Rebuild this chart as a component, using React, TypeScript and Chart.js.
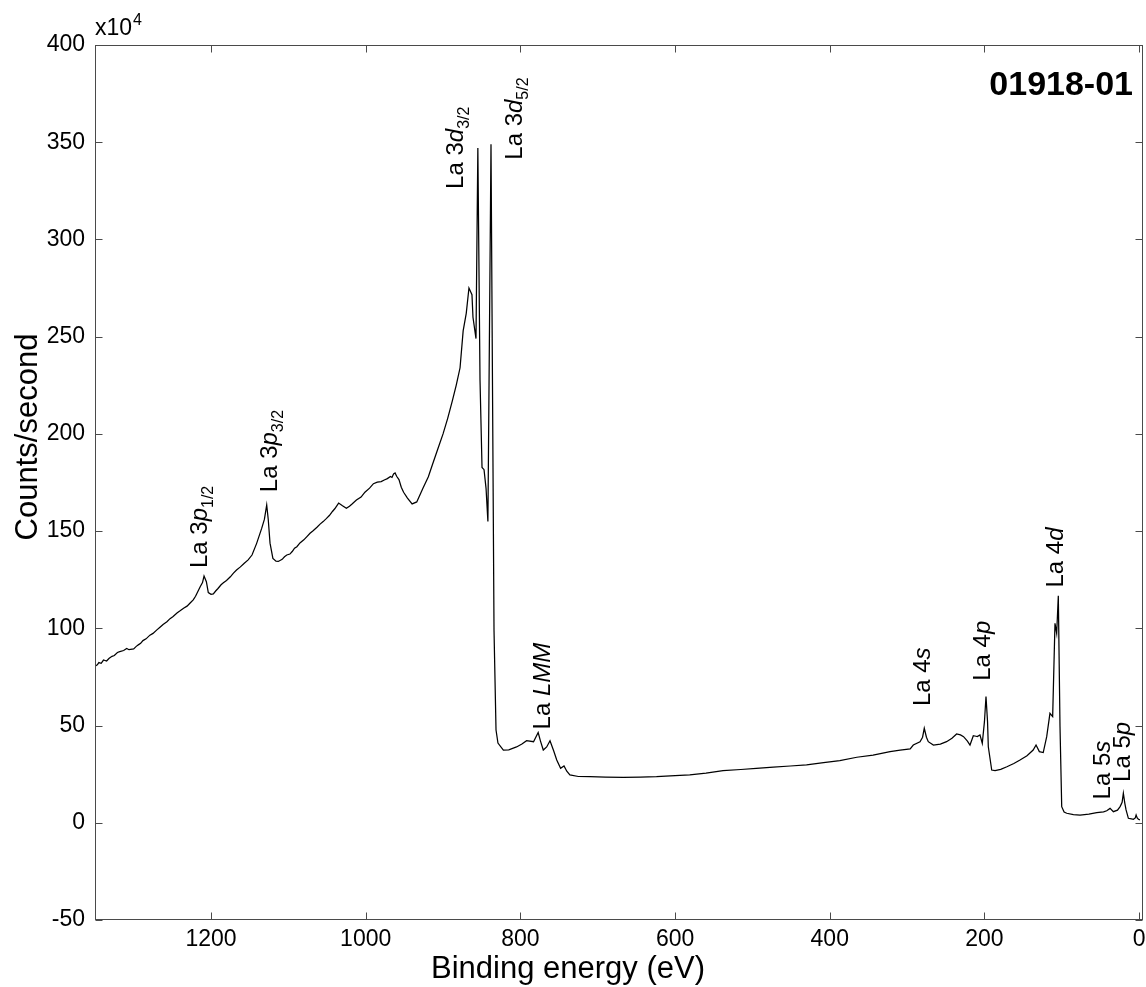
import React, { useEffect, useRef } from 'react';
import { Chart, registerables } from 'chart.js';

Chart.register(...registerables);

// Binding energy (eV)
const energy = [
  1350, 1347, 1345, 1342, 1339, 1335, 1332, 1328, 1325, 1321, 1318, 1313, 1309, 1306, 1300, 1297, 1294, 1291, 1288,
  1284, 1279, 1275, 1270, 1266, 1262, 1257, 1253, 1249, 1244, 1240, 1235, 1231, 1227, 1223, 1220,
  1214, 1211, 1209, 1206, 1203.5, 1200, 1197, 1194, 1191, 1187, 1184, 1180, 1175, 1171, 1167, 1162, 1157, 1152, 1147,
  1141, 1134.5, 1131, 1128, 1126, 1123.7, 1120, 1116, 1113, 1108, 1105, 1102, 1098, 1095, 1092, 1089, 1085, 1080, 1076,
  1072, 1068, 1063, 1059, 1055, 1051, 1047, 1043, 1040, 1035, 1030, 1025, 1021, 1018, 1012, 1006,
  1001, 995, 990, 985, 980, 976, 972, 968, 966, 964, 962, 960, 957, 954, 951, 946, 940, 934, 926, 919, 913, 907, 900, 894,
  888, 883, 878, 874, 870, 866.5, 862.6, 861.3, 857.4, 855, 852.2, 849.6, 847, 844.4, 842, 838, 834.1, 831.5, 829, 822,
  815, 805, 798, 792, 783, 777, 774, 770.4, 766, 761.7, 757, 753, 748, 743.6, 740, 736, 725, 710, 690, 667, 645, 624,
  600, 581, 560, 538, 515, 495, 473, 451, 430, 408, 387, 365, 344, 322, 309, 296, 292, 283.3, 280, 277.8, 275, 272.6,
  266, 257, 249, 242, 236, 231, 227, 222, 218.7, 216, 214.4, 211, 209.3, 205.8, 202.8, 200, 198, 196, 195, 190.6, 186.3,
  179, 171, 162, 154, 145, 137, 133.3, 129, 124, 119.5, 115.3, 111.8, 108.8, 106.6, 104.5, 102.3, 100.1, 97, 93.6, 85,
  76.4, 65, 54.8, 46, 41.9, 37.6, 33.3, 28, 24.6, 22, 20.4, 18.5, 16.9, 13.9, 10, 7.4, 5, 3.9, 2.5, 0.9, -1,
];

// Counts/second (x10^4)
const counts = [
  80.5, 81.2, 82.4, 82.0, 83.7, 83.2, 84.5, 85.6, 86.0, 87.6, 88.0, 88.6, 89.6, 89.0, 89.4, 90.6, 91.5, 92.3, 93.7,
  94.6, 96.5, 97.4, 99.2, 100.6, 102, 103.4, 105, 106.1, 107.9, 109.0, 110.5, 111.4, 113, 114.6, 116.5,
  121.4, 123.5, 126.9, 124, 118.4, 117.5, 117.7, 119.2, 120.5, 122.4, 123.4, 124.6, 126.5, 128.4, 130, 131.6, 133.5, 135.2, 137.7,
  143.7, 151.4, 156, 163.4, 156, 143.8, 136, 134.5, 134.4, 135.5, 136.8, 137.7, 138.2, 139.5, 141.2, 142, 143.9, 145.5, 147.2,
  148.9, 150.2, 152, 153.6, 154.9, 156.4, 158, 160.1, 161.5, 164.4, 163, 161.7, 162.8, 163.8, 166, 167.5,
  170, 172.1, 174.4, 175.2, 175.5, 176.3, 177, 178.1, 177.6, 179.4, 179.9, 178.2, 176.5, 172.6, 170, 167, 164, 165, 172,
  178, 185, 192, 200, 208, 217, 225, 234, 253, 262, 275, 271.6, 260, 249, 347, 227.7, 182.7, 181.6, 172, 155, 349, 99,
  47.7, 41, 37.4, 37.5, 39, 40.5, 42.2, 41.7, 46.4, 42, 37.4, 39, 42.2, 37, 32.3, 28, 29.2, 26.5, 24.6, 23.8, 23.7, 23.5,
  23.4, 23.5, 23.7, 24.2, 24.6, 25.5, 26.8, 27.4, 28, 28.6, 29.2, 29.8, 30.9, 32, 33.7, 34.8, 36.6, 37.4, 38, 40, 41.7, 44,
  48.6, 44, 41.7, 40, 40.5, 41.7, 43.5, 45.7, 45.2, 44.3, 42, 40, 43, 44.8, 44.5, 44.3, 45.2, 40.9, 52, 64.9, 52, 39.1,
  27.1, 26.8, 27.5, 28.8, 30.5, 32.3, 34.5, 37.4, 40, 36.6, 36.1, 44.3, 56.3, 54.6, 102.6, 97.4, 116.7, 49.4, 8.3, 5.5,
  4.9, 4.2, 4.0, 4.5, 5.2, 5.6, 6.2, 7.4, 5.7, 6.5, 8.3, 10.5, 15.2, 10, 6.6, 2.3, 2.0, 1.8, 2.5, 4.0, 2.5, 1.8, 1.5,
];

const xTicks = [1200, 1000, 800, 600, 400, 200, 0];
const yTicks = [-50, 0, 50, 100, 150, 200, 250, 300, 350, 400];

// Peak labels: [text, style] parts ('n' normal, 'i' italic, 'sub' subscript)
type Part = [string, 'n' | 'i' | 'sub'];
const labelParts: Part[][] = [
  [['La 3', 'n'], ['p', 'i'], ['1/2', 'sub']],
  [['La 3', 'n'], ['p', 'i'], ['3/2', 'sub']],
  [['La 3', 'n'], ['d', 'i'], ['3/2', 'sub']],
  [['La 3', 'n'], ['d', 'i'], ['5/2', 'sub']],
  [['La ', 'n'], ['LMM', 'i']],
  [['La 4', 'n'], ['s', 'i']],
  [['La 4', 'n'], ['p', 'i']],
  [['La 4', 'n'], ['d', 'i']],
  [['La 5', 'n'], ['s', 'i']],
  [['La 5', 'n'], ['p', 'i']],
];
const labelEnergy = [1205, 1115, 874, 798, 762, 270, 193, 98, 38, 12];
const labelCounts = [131, 170, 326, 341, 48, 60, 73, 121, 12, 21];

const FONT = "'Liberation Sans', Arial, Helvetica, sans-serif";

const decorPlugin = {
  id: 'decor',
  afterDraw(chart: any) {
    const { ctx, chartArea: a, scales } = chart;
    const xs = scales.x;
    const ys = scales.y;
    ctx.save();
    // frame
    ctx.strokeStyle = '#4a4a4a';
    ctx.lineWidth = 1;
    const L = Math.round(a.left) + 0.5;
    const R = Math.round(a.right) - 0.5;
    const T = Math.round(a.top) + 0.5;
    const B = Math.round(a.bottom) - 0.5;
    ctx.strokeRect(L, T, R - L, B - T);
    // inward ticks
    const tl = 7;
    ctx.beginPath();
    for (const v of xTicks) {
      const px = Math.round(xs.getPixelForValue(v)) + 0.5;
      ctx.moveTo(px, B);
      ctx.lineTo(px, B - tl);
      ctx.moveTo(px, T);
      ctx.lineTo(px, T + tl);
    }
    for (const v of yTicks) {
      const py = Math.round(ys.getPixelForValue(v)) + 0.5;
      ctx.moveTo(L, py);
      ctx.lineTo(L + tl, py);
      ctx.moveTo(R, py);
      ctx.lineTo(R - tl, py);
    }
    ctx.stroke();

    ctx.fillStyle = '#000';
    ctx.textAlign = 'left';
    ctx.textBaseline = 'alphabetic';
    // exponent
    ctx.font = `23px ${FONT}`;
    ctx.fillText('x10', a.left, a.top - 10);
    const w = ctx.measureText('x10').width;
    ctx.font = `16px ${FONT}`;
    ctx.fillText('4', a.left + w + 1, a.top - 20);

    // sample id
    ctx.font = `bold 34px ${FONT}`;
    ctx.textAlign = 'right';
    ctx.fillText('01918-01', a.right - 10, a.top + 50);

    // axis titles
    ctx.font = `31px ${FONT}`;
    ctx.textAlign = 'center';
    ctx.textBaseline = 'alphabetic';
    ctx.fillText('Binding energy (eV)', 568, 978);
    ctx.save();
    ctx.translate(37, 437);
    ctx.rotate(-Math.PI / 2);
    ctx.fillText('Counts/second', 0, 0);
    ctx.restore();

    // peak labels
    ctx.textAlign = 'left';
    labelParts.forEach((parts, i) => {
      const px = xs.getPixelForValue(labelEnergy[i]);
      const py = ys.getPixelForValue(labelCounts[i]);
      ctx.save();
      ctx.translate(px, py);
      ctx.rotate(-Math.PI / 2);
      let cx = 0;
      for (const [t, st] of parts) {
        if (st === 'sub') {
          ctx.font = `16px ${FONT}`;
          ctx.fillText(t, cx, 6);
        } else {
          ctx.font = `${st === 'i' ? 'italic ' : ''}24px ${FONT}`;
          ctx.fillText(t, cx, 0);
        }
        cx += ctx.measureText(t).width;
      }
      ctx.restore();
    });
    ctx.restore();
  },
};

export default function App() {
  const ref = useRef<HTMLCanvasElement | null>(null);
  useEffect(() => {
    const canvas = ref.current;
    if (!canvas) return;
    const chart = new Chart(canvas, {
      type: 'scatter',
      data: {
        datasets: [
          {
            data: energy.map((x, i) => ({ x, y: counts[i] })),
            showLine: true,
            borderColor: '#000',
            borderWidth: 1.25,
            pointRadius: 0,
            fill: false,
            tension: 0,
          },
        ],
      },
      options: {
        responsive: false,
        animation: false,
        devicePixelRatio: 1,
        layout: { padding: { left: 0, right: 3, top: 45, bottom: 0 } },
        plugins: { legend: { display: false }, tooltip: { enabled: false } },
        scales: {
          x: {
            type: 'linear',
            reverse: true,
            min: -5,
            max: 1350,
            grid: { display: false, drawTicks: false },
            border: { display: false },
            afterBuildTicks: (s: any) => {
              s.ticks = xTicks.map((v) => ({ value: v }));
            },
            afterFit: (s: any) => {
              s.height = 67;
              s.paddingLeft = 0;
              s.paddingRight = 0;
            },
            ticks: {
              autoSkip: false,
              maxRotation: 0,
              color: '#000',
              padding: 6,
              font: { family: FONT, size: 23 },
              callback: (v: any) => String(v),
            },
          },
          y: {
            type: 'linear',
            min: -50,
            max: 400,
            grid: { display: false, drawTicks: false },
            border: { display: false },
            afterBuildTicks: (s: any) => {
              s.ticks = yTicks.map((v) => ({ value: v }));
            },
            afterFit: (s: any) => {
              s.width = 95;
            },
            ticks: {
              autoSkip: false,
              color: '#000',
              padding: 10,
              font: { family: FONT, size: 23 },
              callback: (v: any) => String(v),
            },
          },
        },
      },
      plugins: [decorPlugin],
    } as any);
    return () => chart.destroy();
  }, []);
  return (
    <div style={{ position: 'absolute', left: 0, top: 0, width: 1146, height: 987, background: '#fff' }}>
      <canvas ref={ref} width={1146} height={987} style={{ display: 'block' }} />
    </div>
  );
}
